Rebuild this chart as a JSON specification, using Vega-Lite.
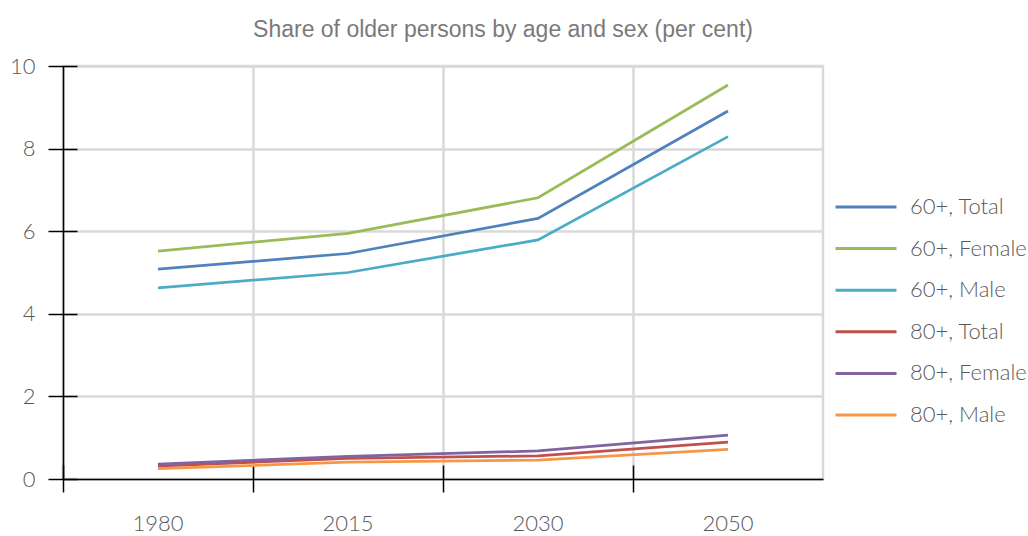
{
  "$schema": "https://vega.github.io/schema/vega-lite/v6.json",
  "width": 760,
  "height": 413,
  "autosize": {"type": "none"},
  "padding": {"left": 63, "top": 66, "right": 205, "bottom": 57},
  "background": "white",
  "title": {"text": "Share of older persons by age and sex (per cent)", "font": "Liberation Sans", "fontSize": 23, "fontWeight": "normal", "color": "#7a7a7a", "anchor": "middle", "dx": 60, "offset": 13},
  "config": {"view": {"stroke": "#d9d9d9", "strokeWidth": 2.5}, "font": "Lato"},
  "data": {"values": [
    {"year": "1980", "series": "60+, Total", "value": 5.08},
    {"year": "2015", "series": "60+, Total", "value": 5.46},
    {"year": "2030", "series": "60+, Total", "value": 6.31},
    {"year": "2050", "series": "60+, Total", "value": 8.91},
    {"year": "1980", "series": "60+, Female", "value": 5.52},
    {"year": "2015", "series": "60+, Female", "value": 5.95},
    {"year": "2030", "series": "60+, Female", "value": 6.81},
    {"year": "2050", "series": "60+, Female", "value": 9.54},
    {"year": "1980", "series": "60+, Male", "value": 4.63},
    {"year": "2015", "series": "60+, Male", "value": 5.0},
    {"year": "2030", "series": "60+, Male", "value": 5.79},
    {"year": "2050", "series": "60+, Male", "value": 8.29},
    {"year": "1980", "series": "80+, Total", "value": 0.31},
    {"year": "2015", "series": "80+, Total", "value": 0.5},
    {"year": "2030", "series": "80+, Total", "value": 0.56},
    {"year": "2050", "series": "80+, Total", "value": 0.89},
    {"year": "1980", "series": "80+, Female", "value": 0.36},
    {"year": "2015", "series": "80+, Female", "value": 0.55},
    {"year": "2030", "series": "80+, Female", "value": 0.68},
    {"year": "2050", "series": "80+, Female", "value": 1.06},
    {"year": "1980", "series": "80+, Male", "value": 0.25},
    {"year": "2015", "series": "80+, Male", "value": 0.41},
    {"year": "2030", "series": "80+, Male", "value": 0.46},
    {"year": "2050", "series": "80+, Male", "value": 0.72}
  ]},
  "layer": [
    {
      "mark": {"type": "line", "strokeWidth": 2.75},
      "encoding": {
        "x": {"field": "year", "type": "ordinal", "scale": {"type": "band", "paddingInner": 0, "paddingOuter": 0},
          "axis": {"title": null, "labelAngle": 0, "ticks": false, "grid": false, "domain": true, "domainColor": "#000000", "domainWidth": 1.5, "labelFontSize": 22, "labelColor": "#595959", "labelFont": "Lato", "labelFontWeight": 300, "labelPadding": 34, "zindex": 1}},
        "y": {"field": "value", "type": "quantitative", "scale": {"domain": [0, 10], "nice": false},
          "axis": {"title": null, "values": [0, 2, 4, 6, 8, 10], "grid": true, "gridColor": "#d9d9d9", "gridWidth": 2.5, "domainColor": "#000000", "domainWidth": 1.5, "tickColor": "#000000", "tickWidth": 1.5, "tickSize": 15, "labelPadding": 13, "labelFontSize": 22, "labelColor": "#595959", "labelFont": "Lato", "labelFontWeight": 300}},
        "color": {"field": "series", "type": "nominal",
          "sort": ["60+, Total", "60+, Female", "60+, Male", "80+, Total", "80+, Female", "80+, Male"],
          "scale": {"domain": ["60+, Total", "60+, Female", "60+, Male", "80+, Total", "80+, Female", "80+, Male"], "range": ["#4f81bd", "#9bbb59", "#4bacc6", "#c0504d", "#8064a2", "#f79646"]},
          "legend": {"title": null, "orient": "none", "legendX": 786, "legendY": 124, "padding": 0, "symbolType": "M-2,0H2", "symbolSize": 930, "symbolStrokeWidth": 3, "labelFontSize": 22, "labelColor": "#595959", "labelFont": "Lato", "labelFontWeight": 300, "labelOffset": 27, "rowPadding": 13.6}}
      }
    },
    {
      "mark": {"type": "line", "strokeOpacity": 0},
      "encoding": {
        "x": {"field": "year", "type": "ordinal",
          "axis": {"title": null, "orient": "bottom", "bandPosition": 0, "labels": false, "domain": false, "ticks": true, "tickColor": "#000000", "tickWidth": 1.5, "tickSize": 27, "offset": -14, "grid": true, "gridColor": "#d9d9d9", "gridWidth": 2.5}},
        "y": {"field": "value", "type": "quantitative",
          "axis": {"title": null, "orient": "left", "values": [0, 2, 4, 6, 8, 10], "labels": false, "domain": false, "grid": false, "ticks": true, "tickColor": "#000000", "tickWidth": 1.5, "tickSize": 14, "offset": -14}},
        "detail": {"field": "series"}
      }
    }
  ],
  "resolve": {"axis": {"x": "independent", "y": "independent"}}
}
